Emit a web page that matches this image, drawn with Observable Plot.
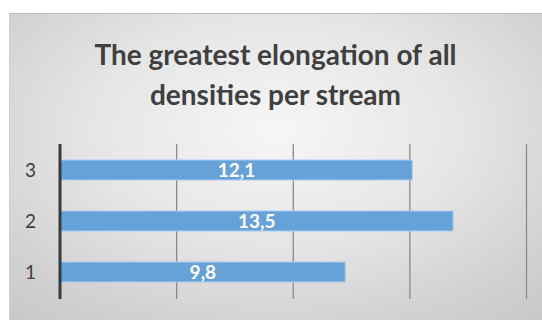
<!DOCTYPE html>
<html>
<head>
<meta charset="utf-8">
<script src="https://cdn.jsdelivr.net/npm/d3@7"></script>
<script src="https://cdn.jsdelivr.net/npm/@observablehq/plot@0.6"></script>
<style>
  html, body { margin: 0; padding: 0; background: #ffffff; }
  #wrap { position: relative; width: 542px; height: 320px; overflow: hidden; background: #fff; }
  #panel { position: absolute; left: 9px; top: 13px; width: 533px; height: 307px;
    border-top: 1.5px solid #bfbfbf; border-left: 1px solid #d0d0d0;
    background: radial-gradient(ellipse 75% 80% at 50% 38%, #f6f6f6 0%, #e6e6e6 45%, #d2d2d2 80%, #c9c9c9 100%); }
  #title { position: absolute; left: 9px; width: 533px; top: 34px; text-align: center;
    font-family: Lato, "Open Sans", sans-serif; font-weight: bold; font-size: 28px; line-height: 40px; color: #404040; }
  #chart { position: absolute; left: 0; top: 0; }
</style>
</head>
<body>
<div id="wrap">
  <div id="panel"></div>
  <div id="title">The greatest elongation of all<br>densities per stream</div>
  <div id="chart"></div>
</div>
<script>
const categories = ["3", "2", "1"];
const values = [12.1, 13.5, 9.8];
const labels = ["12,1", "13,5", "9,8"];
const xTicks = [0, 4, 8, 12, 16];

const data = categories.map((c, i) => ({cat: c, value: values[i], label: labels[i]}));

const plot = Plot.plot({
  width: 542,
  height: 320,
  marginLeft: 59.5,
  marginRight: 16,
  marginTop: 144,
  marginBottom: 21,
  style: {background: "transparent", fontFamily: "Lato, 'Open Sans', sans-serif", color: "#404040"},
  x: {domain: [0, 16], axis: null},
  y: {domain: categories, paddingInner: 0.6, paddingOuter: 0.3, axis: null},
  marks: [
    Plot.ruleX(xTicks.slice(1), {stroke: "#8a8a8a", strokeWidth: 1.3}),
    Plot.barX(data, {x: "value", y: "cat", fill: "#66a1d8", stroke: "#a9cdef", strokeWidth: 1}),
    Plot.ruleX([xTicks[0]], {stroke: "#3a3a3a", strokeWidth: 3}),
    Plot.axisY({tickSize: 0, tickPadding: 24, fontSize: 19, fill: "#404040", label: null}),
    Plot.text(data, {x: d => d.value / 2, y: "cat", text: "label", fill: "white", fontWeight: "bold", fontSize: 19})
  ]
});
document.getElementById("chart").appendChild(plot);
</script>
</body>
</html>
